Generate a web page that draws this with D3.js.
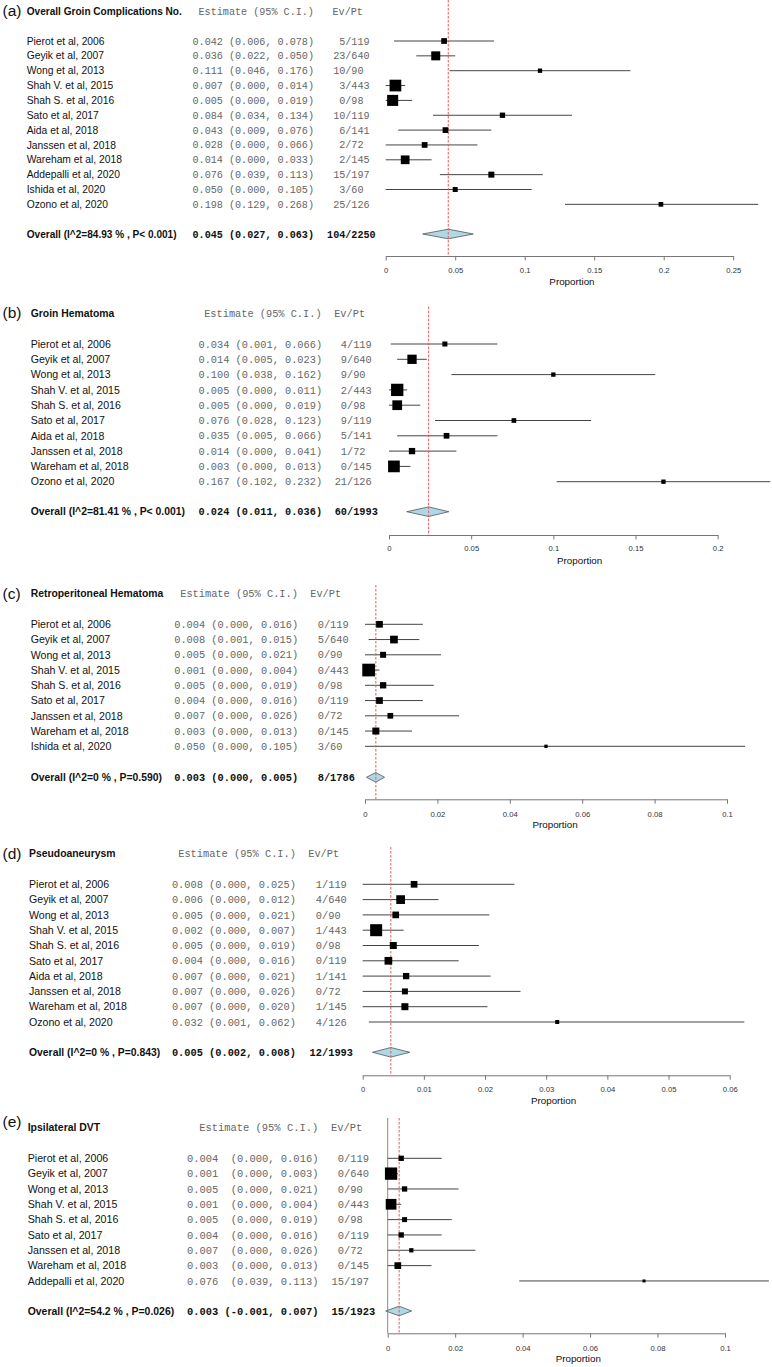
<!DOCTYPE html>
<html>
<head>
<meta charset="UTF-8">
<script src="https://d3js.org/d3.v7.min.js"></script>
<title>Forest plots</title>
<style>
  body { margin: 0; background: #fff; }
</style>
</head>
<body>
<div id="container"></div>
<script>
// ---------- (a) Overall Groin Complications No. ----------
var studiesA = ["Pierot et al, 2006", "Geyik et al, 2007", "Wong et al, 2013", "Shah V. et al, 2015", "Shah S. et al, 2016", "Sato et al, 2017",
                "Aida et al, 2018", "Janssen et al, 2018", "Wareham et al, 2018", "Addepalli et al, 2020", "Ishida et al, 2020", "Ozono et al, 2020"];
var estA = [0.042, 0.036, 0.111, 0.007, 0.005, 0.084, 0.043, 0.028, 0.014, 0.076, 0.050, 0.198];
var loA  = [0.006, 0.022, 0.046, 0.000, 0.000, 0.034, 0.009, 0.000, 0.000, 0.039, 0.000, 0.129];
var hiA  = [0.078, 0.050, 0.176, 0.014, 0.019, 0.134, 0.076, 0.066, 0.033, 0.113, 0.105, 0.268];
var evA  = [5, 23, 10, 3, 0, 10, 6, 2, 2, 15, 3, 25];
var ptA  = [119, 640, 90, 443, 98, 119, 141, 72, 145, 197, 60, 126];
var wA   = [5.1, 12.6, 2.9, 21.3, 18.9, 4.4, 5.1, 5.1, 11.8, 5.6, 3.9, 3.4];
var overallA = [0.045, 0.0266, 0.063];
var overallEvA = [104, 2250];
var ticksA = [0, 0.05, 0.1, 0.15, 0.2, 0.25];
var tickLabelsA = ["0", "0.05", "0.1", "0.15", "0.2", "0.25"];

// ---------- (b) Groin Hematoma ----------
var studiesB = ["Pierot et al, 2006", "Geyik et al, 2007", "Wong et al, 2013", "Shah V. et al, 2015", "Shah S. et al, 2016", "Sato et al, 2017",
                "Aida et al, 2018", "Janssen et al, 2018", "Wareham et al, 2018", "Ozono et al, 2020"];
var estB = [0.034, 0.014, 0.100, 0.005, 0.005, 0.076, 0.035, 0.014, 0.003, 0.167];
var loB  = [0.001, 0.005, 0.038, 0.000, 0.000, 0.028, 0.005, 0.000, 0.000, 0.102];
var hiB  = [0.066, 0.023, 0.162, 0.011, 0.019, 0.123, 0.066, 0.041, 0.013, 0.232];
var evB  = [4, 9, 9, 2, 0, 9, 5, 1, 0, 21];
var ptB  = [119, 640, 90, 443, 98, 119, 141, 72, 145, 126];
var wB   = [4.0, 13.8, 3.0, 24.2, 15.1, 3.5, 5.2, 6.4, 21.9, 3.0];
var overallB = [0.0241, 0.0108, 0.0364];
var overallEvB = [60, 1993];
var ticksB = [0, 0.05, 0.1, 0.15, 0.2];
var tickLabelsB = ["0", "0.05", "0.1", "0.15", "0.2"];

// ---------- (c) Retroperitoneal Hematoma ----------
var studiesC = ["Pierot et al, 2006", "Geyik et al, 2007", "Wong et al, 2013", "Shah V. et al, 2015", "Shah S. et al, 2016", "Sato et al, 2017",
                "Janssen et al, 2018", "Wareham et al, 2018", "Ishida et al, 2020"];
var estC = [0.004, 0.008, 0.005, 0.001, 0.005, 0.004, 0.007, 0.003, 0.050];
var loC  = [0.000, 0.001, 0.000, 0.000, 0.000, 0.000, 0.000, 0.000, 0.000];
var hiC  = [0.016, 0.015, 0.021, 0.004, 0.019, 0.016, 0.026, 0.013, 0.105];
var evC  = [0, 5, 0, 0, 0, 0, 0, 0, 3];
var ptC  = [119, 640, 90, 443, 98, 119, 72, 145, 60];
var wC   = [9.4, 12.4, 7.5, 33.7, 8.3, 9.4, 6.8, 10.2, 2.3];
var overallC = [0.0030, 0.0004, 0.0054];
var overallEvC = [8, 1786];
var ticksC = [0, 0.02, 0.04, 0.06, 0.08, 0.1];
var tickLabelsC = ["0", "0.02", "0.04", "0.06", "0.08", "0.1"];

// ---------- (d) Pseudoaneurysm ----------
var studiesD = ["Pierot et al, 2006", "Geyik et al, 2007", "Wong et al, 2013", "Shah V. et al, 2015", "Shah S. et al, 2016", "Sato et al, 2017",
                "Aida et al, 2018", "Janssen et al, 2018", "Wareham et al, 2018", "Ozono et al, 2020"];
var estD = [0.0084, 0.0062, 0.0054, 0.0022, 0.005, 0.0042, 0.0071, 0.0069, 0.0069, 0.0318];
var loD  = [0.000, 0.000, 0.000, 0.000, 0.000, 0.000, 0.000, 0.000, 0.000, 0.001];
var hiD  = [0.0248, 0.0124, 0.0207, 0.0067, 0.019, 0.0157, 0.0209, 0.0258, 0.0204, 0.0624];
var evD  = [1, 4, 0, 1, 0, 0, 1, 0, 1, 4];
var ptD  = [119, 640, 90, 443, 98, 119, 141, 72, 145, 126];
var wD   = [8.0, 13.6, 8.0, 25.8, 8.8, 10.6, 7.1, 6.4, 8.8, 2.9];
var overallD = [0.0046, 0.0016, 0.0077];
var overallEvD = [12, 1993];
var ticksD = [0, 0.01, 0.02, 0.03, 0.04, 0.05, 0.06];
var tickLabelsD = ["0", "0.01", "0.02", "0.03", "0.04", "0.05", "0.06"];

// ---------- (e) Ipsilateral DVT ----------
var studiesE = ["Pierot et al, 2006", "Geyik et al, 2007", "Wong et al, 2013", "Shah V. et al, 2015", "Shah S. et al, 2016", "Sato et al, 2017",
                "Janssen et al, 2018", "Wareham et al, 2018", "Addepalli et al, 2020"];
var estE = [0.004, 0.001, 0.005, 0.001, 0.005, 0.004, 0.007, 0.003, 0.076];
var loE  = [0.000, 0.000, 0.000, 0.000, 0.000, 0.000, 0.000, 0.000, 0.039];
var hiE  = [0.016, 0.003, 0.021, 0.004, 0.019, 0.016, 0.026, 0.013, 0.113];
var evE  = [0, 0, 0, 0, 0, 0, 0, 0, 15];
var ptE  = [119, 640, 90, 443, 98, 119, 72, 145, 197];
var wE   = [6.3, 33.8, 6.3, 25.6, 5.6, 6.3, 4.1, 10.0, 2.0];
var overallE = [0.0034, -0.0006, 0.0071];
var overallEvE = [15, 1923];
var ticksE = [0, 0.02, 0.04, 0.06, 0.08, 0.1];
var tickLabelsE = ["0", "0.02", "0.04", "0.06", "0.08", "0.1"];

var W = 772, H = 1367;
var sans = "'Liberation Sans', Arial, sans-serif";
var mono = "'Liberation Mono', 'Courier New', monospace";

var panels = [
  {letter: "(a)", title: "Overall Groin Complications No.", overallText: "Overall (I^2=84.93 % , P< 0.001)",
   studies: studiesA, est: estA, lo: loA, hi: hiA, ev: evA, pt: ptA, w: wA, overall: overallA, overallEv: overallEvA,
   ticks: ticksA, tickLabels: tickLabelsA,
   lay: {letterY: 11, titleX: 26.7, titleY: 11, hdrEstX: 199.3, hdrEvX: 333.3, estX: 193.3, slashX: 345.3,
         row0: 41, step: 14.85, overallY: 234, axisY: 256, xr: [385.7, 733.2], dashTop: 0, box: 11.7,
         nameFs: 10.3, monoFs: 10.13, tickOff: 14.2}},
  {letter: "(b)", title: "Groin Hematoma", overallText: "Overall (I^2=81.41 % , P< 0.001)",
   studies: studiesB, est: estB, lo: loB, hi: hiB, ev: evB, pt: ptB, w: wB, overall: overallB, overallEv: overallEvB,
   ticks: ticksB, tickLabels: tickLabelsB,
   lay: {letterY: 313, titleX: 30.7, titleY: 313, hdrEstX: 205, hdrEvX: 335, estX: 199.3, slashX: 347,
         row0: 344, step: 15.3, overallY: 511.7, axisY: 535, xr: [389, 717.7], dashTop: 306.7, box: 12.3,
         nameFs: 10.6, monoFs: 10.3, tickOff: 13.6}},
  {letter: "(c)", title: "Retroperitoneal Hematoma", overallText: "Overall (I^2=0 % , P=0.590)",
   studies: studiesC, est: estC, lo: loC, hi: hiC, ev: evC, pt: ptC, w: wC, overall: overallC, overallEv: overallEvC,
   ticks: ticksC, tickLabels: tickLabelsC,
   lay: {letterY: 593.3, titleX: 30.7, titleY: 593.3, hdrEstX: 181, hdrEvX: 311, estX: 175, slashX: 323.9,
         row0: 624.3, step: 15.25, overallY: 777.3, axisY: 799.3, xr: [365, 727], dashTop: 585, box: 12.7,
         nameFs: 10.6, monoFs: 10.33, tickOff: 14.6}},
  {letter: "(d)", title: "Pseudoaneurysm", overallText: "Overall (I^2=0 % , P=0.843)",
   studies: studiesD, est: estD, lo: loD, hi: hiD, ev: evD, pt: ptD, w: wD, overall: overallD, overallEv: overallEvD,
   ticks: ticksD, tickLabels: tickLabelsD,
   lay: {letterY: 853.3, titleX: 29, titleY: 853.3, hdrEstX: 179, hdrEvX: 309, estX: 172.7, slashX: 322,
         row0: 884.3, step: 15.3, overallY: 1052.3, axisY: 1075.3, xr: [362.7, 729.7], dashTop: 847, box: 12,
         nameFs: 10.6, monoFs: 10.33, tickOff: 14}},
  {letter: "(e)", title: "Ipsilateral DVT", overallText: "Overall (I^2=54.2 % , P=0.026)",
   studies: studiesE, est: estE, lo: loE, hi: hiE, ev: evE, pt: ptE, w: wE, overall: overallE, overallEv: overallEvE,
   ticks: ticksE, tickLabels: tickLabelsE,
   lay: {letterY: 1121.7, titleX: 27.7, titleY: 1127.3, hdrEstX: 200, hdrEvX: 331.7, estX: 187.7, slashX: 344,
         row0: 1158.3, step: 15.33, overallY: 1311, axisY: 1333.3, xr: [387.7, 725], dashTop: 1118, box: 12.3,
         nameFs: 10.67, monoFs: 10.45, tickOff: 15.5, zeroLine: true}}
];

var svg = d3.select("#container").append("svg")
  .attr("width", W).attr("height", H)
  .style("background", "#fff");

function ciText(est, lo, hi, loWidth) {
  var l = lo.toFixed(3);
  return est.toFixed(3) + " " + " ".repeat(loWidth - l.length) + "(" + l + ", " + hi.toFixed(3) + ")";
}

panels.forEach(function(p) {
  var L = p.lay;
  var g = svg.append("g");
  var x = d3.scaleLinear().domain([0, d3.max(p.ticks)]).range(L.xr);
  var side = d3.scaleSqrt().domain([0, d3.max(p.w)]).range([0, L.box]);
  var rowY = function(i) { return L.row0 + i * L.step; };
  var allLo = p.lo.concat([p.overall[1]]);
  var loWidth = d3.max(allLo, function(d) { return d.toFixed(3).length; });

  // panel letter + title + header
  g.append("text").attr("x", 2.5).attr("y", L.letterY).attr("dy", "0.35em")
    .attr("font-family", sans).attr("font-size", 15.5).attr("fill", "#111").text(p.letter);
  g.append("text").attr("x", L.titleX).attr("y", L.titleY).attr("dy", "0.35em")
    .attr("font-family", sans).attr("font-weight", "bold").attr("font-size", L.nameFs * 0.98)
    .attr("fill", "#111").text(p.title);
  g.append("text").attr("x", L.hdrEstX - 0.8).attr("y", L.titleY).attr("dy", "0.35em")
    .attr("font-family", mono).attr("font-size", L.monoFs).attr("fill", "#666")
    .style("white-space", "pre").text("Estimate (95% C.I.)");
  g.append("text").attr("x", L.hdrEvX - 0.8).attr("y", L.titleY).attr("dy", "0.35em")
    .attr("font-family", mono).attr("font-size", L.monoFs).attr("fill", "#666").text("Ev/Pt");

  // study rows text
  var rows = g.selectAll("g.row").data(p.studies).enter().append("g").attr("class", "row");
  rows.append("text").attr("x", L.titleX).attr("y", function(d, i) { return rowY(i); }).attr("dy", "0.35em")
    .attr("font-family", sans).attr("font-size", L.nameFs).attr("fill", "#111").text(function(d) { return d; });
  rows.append("text").attr("x", L.estX - 0.8).attr("y", function(d, i) { return rowY(i); }).attr("dy", "0.35em")
    .attr("font-family", mono).attr("font-size", L.monoFs).attr("fill", "#666").style("white-space", "pre")
    .text(function(d, i) { return ciText(p.est[i], p.lo[i], p.hi[i], loWidth); });
  rows.append("text").attr("x", L.slashX).attr("y", function(d, i) { return rowY(i); }).attr("dy", "0.35em")
    .attr("text-anchor", "end").attr("font-family", mono).attr("font-size", L.monoFs).attr("fill", "#666")
    .text(function(d, i) { return p.ev[i]; });
  rows.append("text").attr("x", L.slashX).attr("y", function(d, i) { return rowY(i); }).attr("dy", "0.35em")
    .attr("font-family", mono).attr("font-size", L.monoFs).attr("fill", "#666")
    .text(function(d, i) { return "/" + p.pt[i]; });

  // overall row text
  g.append("text").attr("x", L.titleX).attr("y", L.overallY).attr("dy", "0.35em")
    .attr("font-family", sans).attr("font-weight", "bold").attr("font-size", L.nameFs * 0.98)
    .attr("fill", "#111").text(p.overallText);
  g.append("text").attr("x", L.estX - 0.8).attr("y", L.overallY).attr("dy", "0.35em")
    .attr("font-family", mono).attr("font-weight", "bold").attr("font-size", L.monoFs).attr("fill", "#111")
    .style("white-space", "pre").text(ciText(p.overall[0], p.overall[1], p.overall[2], loWidth));
  g.append("text").attr("x", L.slashX).attr("y", L.overallY).attr("dy", "0.35em").attr("text-anchor", "end")
    .attr("font-family", mono).attr("font-weight", "bold").attr("font-size", L.monoFs).attr("fill", "#111")
    .text(p.overallEv[0]);
  g.append("text").attr("x", L.slashX).attr("y", L.overallY).attr("dy", "0.35em")
    .attr("font-family", mono).attr("font-weight", "bold").attr("font-size", L.monoFs).attr("fill", "#111")
    .text("/" + p.overallEv[1]);

  // vertical line at zero (only in panel e)
  if (L.zeroLine) {
    g.append("line").attr("x1", x(0)).attr("x2", x(0)).attr("y1", L.dashTop).attr("y2", L.axisY)
      .attr("stroke", "#888").attr("stroke-width", 1);
  }

  // axis
  var axis = d3.axisBottom(x).tickValues(p.ticks)
    .tickFormat(function(d, i) { return p.tickLabels[i]; })
    .tickSize(4.4).tickSizeOuter(0);
  var ax = g.append("g").attr("transform", "translate(0," + L.axisY + ")").call(axis);
  ax.select(".domain").attr("stroke", "#777");
  ax.selectAll(".tick line").attr("stroke", "#777");
  ax.selectAll(".tick text").attr("y", L.tickOff).attr("dy", "0.35em")
    .attr("font-family", sans).attr("font-size", 7.7).attr("fill", "#333");

  var maxHi = d3.max(p.hi);
  g.append("text").attr("x", (x(0) + x(maxHi)) / 2).attr("y", L.axisY + 25.5).attr("dy", "0.35em")
    .attr("text-anchor", "middle").attr("font-family", sans).attr("font-size", 9.8).attr("fill", "#111")
    .text("Proportion");

  // CI lines
  g.selectAll("line.ci").data(p.studies).enter().append("line").attr("class", "ci")
    .attr("x1", function(d, i) { return x(p.lo[i]); })
    .attr("x2", function(d, i) { return x(p.hi[i]); })
    .attr("y1", function(d, i) { return rowY(i); })
    .attr("y2", function(d, i) { return rowY(i); })
    .attr("stroke", "#444").attr("stroke-width", 1);

  // summary diamond
  var o = p.overall;
  g.append("path")
    .attr("d", "M" + x(o[1]) + "," + L.overallY + "L" + x(o[0]) + "," + (L.overallY - 4.8) +
               "L" + x(o[2]) + "," + L.overallY + "L" + x(o[0]) + "," + (L.overallY + 4.8) + "Z")
    .attr("fill", "#add8e6").attr("stroke", "#555").attr("stroke-width", 0.8);

  // dashed summary line
  g.append("line").attr("x1", x(o[0])).attr("x2", x(o[0])).attr("y1", L.dashTop).attr("y2", L.axisY)
    .attr("stroke", "#e85a5a").attr("stroke-width", 1).attr("stroke-dasharray", "2.5,1.5");

  // study boxes
  g.selectAll("rect.box").data(p.studies).enter().append("rect").attr("class", "box")
    .attr("x", function(d, i) { return x(p.est[i]) - side(p.w[i]) / 2; })
    .attr("y", function(d, i) { return rowY(i) - side(p.w[i]) / 2; })
    .attr("width", function(d, i) { return side(p.w[i]); })
    .attr("height", function(d, i) { return side(p.w[i]); })
    .attr("fill", "#000");
});
</script>
</body>
</html>
